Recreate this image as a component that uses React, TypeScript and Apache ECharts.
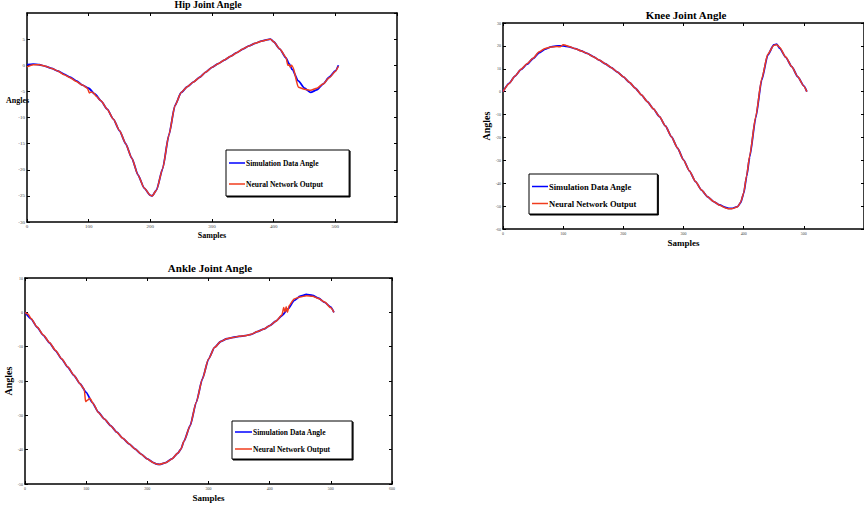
import React, { useEffect, useRef } from 'react';
import * as echarts from 'echarts';

const SIM = 'Simulation Data Angle';
const NN = 'Neural Network Output';
const FONT = 'Liberation Serif';

// ---------- Hip ----------
const hipSimX = [0,10,20,30,40,50,60,70,80,90,100,110,120,130,140,150,160,170,180,190,200,203,210,220,230,240,250,260,270,280,290,300,310,320,330,340,350,360,370,380,390,395,400,410,420,425,430,440,450,460,470,480,490,500,505];
const hipSimY = [0.1,0.2,0.1,-0.2,-0.6,-1.1,-1.7,-2.3,-3.0,-3.8,-4.4,-5.5,-6.8,-8.4,-10.3,-12.5,-15.0,-17.8,-21.0,-23.5,-24.9,-25.0,-23.9,-19.8,-13.4,-7.7,-5.2,-4.1,-3.2,-2.3,-1.3,-0.4,0.3,1.0,1.7,2.4,3.1,3.7,4.2,4.6,4.9,5.0,4.5,3.1,1.4,0.3,-0.8,-3.0,-4.4,-5.2,-4.7,-3.6,-2.3,-1.1,0.0];
const hipNnX = [0,10,20,30,40,50,60,70,80,90,98,101,104,108,112,120,130,140,150,160,170,180,190,200,203,210,220,230,240,250,260,270,280,290,300,310,320,330,340,350,360,370,380,390,395,400,410,420,423,425,427,429,431,440,450,460,470,480,490,500,505];
const hipNnY = [-0.3,0.1,0.1,-0.2,-0.6,-1.1,-1.8,-2.4,-3.1,-3.8,-4.4,-5.3,-5.1,-5.3,-5.9,-6.8,-8.4,-10.3,-12.5,-15.0,-17.8,-21.0,-23.5,-24.9,-25.0,-23.9,-19.8,-13.4,-7.7,-5.2,-4.1,-3.2,-2.3,-1.3,-0.4,0.3,1.0,1.7,2.4,3.1,3.7,4.2,4.6,4.9,5.0,4.5,3.1,1.5,0.0,0.1,-0.4,0.0,-0.3,-4.2,-4.6,-4.8,-4.4,-3.6,-2.4,-1.2,-0.2];

// ---------- Knee ----------
const kneeSimX = [0,10,20,30,40,50,60,70,80,90,100,110,120,130,140,150,160,170,180,190,200,210,220,230,240,250,260,270,280,290,300,310,320,330,340,350,360,370,375,380,390,395,400,405,410,420,430,440,450,455,460,470,480,490,500,505];
const kneeSimY = [0,3.6,6.8,9.7,12,14.5,17,18.6,19.6,20,20,19.6,18.8,17.8,16.7,15.3,13.8,12.2,10.5,8.6,6.5,4.1,1.5,-1.4,-4.4,-7.5,-10.9,-15,-19.7,-24.6,-29.8,-34.7,-39.3,-43,-45.9,-48,-49.5,-50.6,-51,-51,-50.2,-48.5,-44.5,-37,-28.5,-11.5,5.1,16,20.4,20.8,18.9,15,10.9,6.5,2.5,0];
const kneeNnX = [0,10,20,30,40,50,60,70,80,90,95,100,105,110,120,130,140,150,160,170,180,190,200,210,220,230,240,250,260,270,280,290,300,310,320,330,340,350,360,370,375,380,390,395,400,405,410,420,430,440,450,455,460,470,480,490,500,505];
const kneeNnY = [0,3.5,6.8,9.8,12.2,14.6,17.4,18.9,19.5,19.7,19.6,20.5,20.2,19.7,18.8,17.8,16.7,15.3,13.8,12.2,10.5,8.6,6.5,4.1,1.5,-1.4,-4.4,-7.5,-10.9,-15,-19.7,-24.6,-29.8,-34.7,-39.3,-43,-45.9,-48,-49.6,-50.8,-51.2,-51.2,-50.3,-48.3,-44.3,-36.6,-28,-11,5.6,16.3,20.2,20.5,19.3,15.1,10.9,6.5,2.4,0];

// ---------- Ankle ----------
const ankleSimX = [0,10,20,30,40,50,60,70,80,90,100,110,120,130,140,150,160,170,180,190,200,210,215,220,230,240,250,255,260,270,280,290,300,310,320,330,340,350,360,370,380,390,400,410,420,430,440,450,460,470,480,490,500,505];
const ankleSimY = [0,-1.9,-4.4,-6.7,-8.9,-11.2,-13.6,-16,-18.4,-20.8,-23.3,-26.3,-29.1,-31.1,-33,-34.9,-36.7,-38.3,-39.8,-41.3,-42.7,-43.8,-44.2,-44.3,-43.8,-42.7,-41,-39.8,-37.5,-33,-26.2,-19.4,-13.6,-10.2,-8.5,-7.7,-7.3,-7.0,-6.8,-6.4,-5.6,-4.9,-3.9,-2.6,-1,1,3.4,4.7,5.2,4.9,4.1,2.9,1.5,0];
const ankleNnX = [0,5,10,20,30,40,50,60,70,80,90,95,97,99,102,106,112,120,130,140,150,160,170,180,190,200,210,215,220,230,240,250,255,260,270,280,290,300,310,320,330,340,350,360,370,380,390,400,410,420,423,425,427,429,432,440,450,460,470,480,490,500,505];
const ankleNnY = [0,-0.5,-1.8,-4.3,-6.6,-8.8,-11.1,-13.5,-15.9,-18.3,-20.8,-22.0,-22.6,-26.0,-25.6,-25.0,-26.7,-29.2,-31.1,-33,-34.9,-36.7,-38.3,-39.8,-41.3,-42.7,-43.8,-44.2,-44.3,-43.8,-42.7,-41,-39.8,-37.5,-33,-26.2,-19.4,-13.6,-10.2,-8.5,-7.7,-7.3,-7.0,-6.8,-6.4,-5.6,-4.9,-3.9,-2.6,-0.8,1.4,0.1,1.6,0.0,2.0,3.9,4.5,4.8,4.7,4.0,3.0,1.3,0];

const zip = (xs: number[], ys: number[]) => xs.map((x, i) => [x, ys[i]]);

const BLUE = '#0000ff';
const RED = '#f03c1e';

const axisLine = { onZero: false, lineStyle: { color: '#000', width: 1.5 } };
const axisTick = { inside: true, length: 3, lineStyle: { color: '#000', width: 1 } };

function axesFor(
  g: number,
  y: { min: number; max: number; interval: number; showMax: boolean },
  xShowMax: boolean,
  labelSize: number,
  nameSize: number,
  yName: string,
  yNameGap: number
) {
  const label = { fontSize: labelSize, color: '#444', margin: 2, fontFamily: FONT };
  const xAxes = [
    {
      gridIndex: g, type: 'value', min: 0, max: 600, interval: 100, position: 'bottom',
      axisLine, axisTick, splitLine: { show: false },
      axisLabel: { ...label, showMaxLabel: xShowMax },
      name: 'Samples', nameLocation: 'middle', nameGap: 9,
      nameTextStyle: { fontFamily: FONT, fontWeight: 'bold', fontSize: nameSize, color: '#000' },
    },
    {
      gridIndex: g, type: 'value', min: 0, max: 600, interval: 100, position: 'top',
      axisLine, axisTick, splitLine: { show: false }, axisLabel: { show: false },
    },
  ];
  const yAxes = [
    {
      gridIndex: g, type: 'value', min: y.min, max: y.max, interval: y.interval, position: 'left',
      axisLine, axisTick, splitLine: { show: false },
      axisLabel: { ...label, showMaxLabel: y.showMax },
      name: yName, nameLocation: 'middle', nameGap: yNameGap, nameRotate: 90,
      nameTextStyle: { fontFamily: FONT, fontWeight: 'bold', fontSize: nameSize + 1, color: '#000' },
    },
    {
      gridIndex: g, type: 'value', min: y.min, max: y.max, interval: y.interval, position: 'right',
      axisLine, axisTick, splitLine: { show: false }, axisLabel: { show: false },
    },
  ];
  return { xAxes, yAxes };
}

function seriesFor(g: number, simX: number[], simY: number[], nnX: number[], nnY: number[]) {
  const common = {
    type: 'line', xAxisIndex: 2 * g, yAxisIndex: 2 * g, symbol: 'none', smooth: 0.2,
    smoothMonotone: 'x',
  };
  return [
    { ...common, name: SIM, data: zip(simX, simY), lineStyle: { color: BLUE, width: 1.8 }, itemStyle: { color: BLUE } },
    { ...common, name: NN, data: zip(nnX, nnY), lineStyle: { color: RED, width: 1.5 }, itemStyle: { color: RED } },
  ];
}

function legendFor(left: number, top: number, size: number, gap: number, pad: number[], w: number) {
  return {
    data: [SIM, NN], orient: 'vertical', left, top, icon: 'rect', itemWidth: w, itemHeight: 1.5, itemGap: gap,
    padding: pad, backgroundColor: '#fff', borderColor: '#000', borderWidth: 1,
    shadowColor: '#000', shadowOffsetX: 1, shadowOffsetY: 1, shadowBlur: 0,
    selectedMode: false,
    textStyle: { fontFamily: FONT, fontWeight: 'bold', fontSize: size, color: '#000', padding: [0, 0, 0, -4] },
  };
}

export default function App() {
  const ref = useRef<HTMLDivElement>(null);
  useEffect(() => {
    if (!ref.current) return;
    const chart = echarts.init(ref.current, undefined, { renderer: 'svg' });
    const hip = axesFor(0, { min: -30, max: 10, interval: 5, showMax: false }, false, 5, 8, '', 0);
    const knee = axesFor(1, { min: -60, max: 30, interval: 10, showMax: true }, false, 4, 9, 'Angles', 9);
    const ankle = axesFor(2, { min: -50, max: 10, interval: 10, showMax: true }, true, 4, 9, 'Angles', 9);
    chart.setOption({
      animation: false,
      grid: [
        { left: 27, top: 13, width: 370, height: 209 },
        { left: 503, top: 23, width: 366, height: 206 },
        { left: 25, top: 278, width: 367, height: 206 },
      ],
      xAxis: [...hip.xAxes, ...knee.xAxes, ...ankle.xAxes],
      yAxis: [...hip.yAxes, ...knee.yAxes, ...ankle.yAxes],
      legend: [
        legendFor(226, 150, 7.5, 13, [9, 26, 8, 3], 16),
        legendFor(529, 174, 8.5, 8, [8, 21, 6, 3], 16),
        legendFor(232, 421, 7.5, 9, [7, 22, 6, 3], 17),
      ],
      graphic: [
        { type: 'text', x: 208, y: 4, style: { text: 'Hip Joint Angle', align: 'center', verticalAlign: 'middle', font: `bold 10px "${FONT}"`, fill: '#000' } },
        { type: 'text', x: 686, y: 15, style: { text: 'Knee Joint Angle', align: 'center', verticalAlign: 'middle', font: `bold 11px "${FONT}"`, fill: '#000' } },
        { type: 'text', x: 210, y: 268, style: { text: 'Ankle Joint Angle', align: 'center', verticalAlign: 'middle', font: `bold 11px "${FONT}"`, fill: '#000' } },
        { type: 'text', x: 6, y: 100, style: { text: 'Angles', align: 'left', verticalAlign: 'middle', font: `bold 8px "${FONT}"`, fill: '#000' } },
      ],
      series: [
        ...seriesFor(0, hipSimX, hipSimY, hipNnX, hipNnY),
        ...seriesFor(1, kneeSimX, kneeSimY, kneeNnX, kneeNnY),
        ...seriesFor(2, ankleSimX, ankleSimY, ankleNnX, ankleNnY),
      ],
    });
    return () => chart.dispose();
  }, []);
  return <div ref={ref} style={{ position: 'absolute', left: 0, top: 0, width: 864, height: 508 }} />;
}
